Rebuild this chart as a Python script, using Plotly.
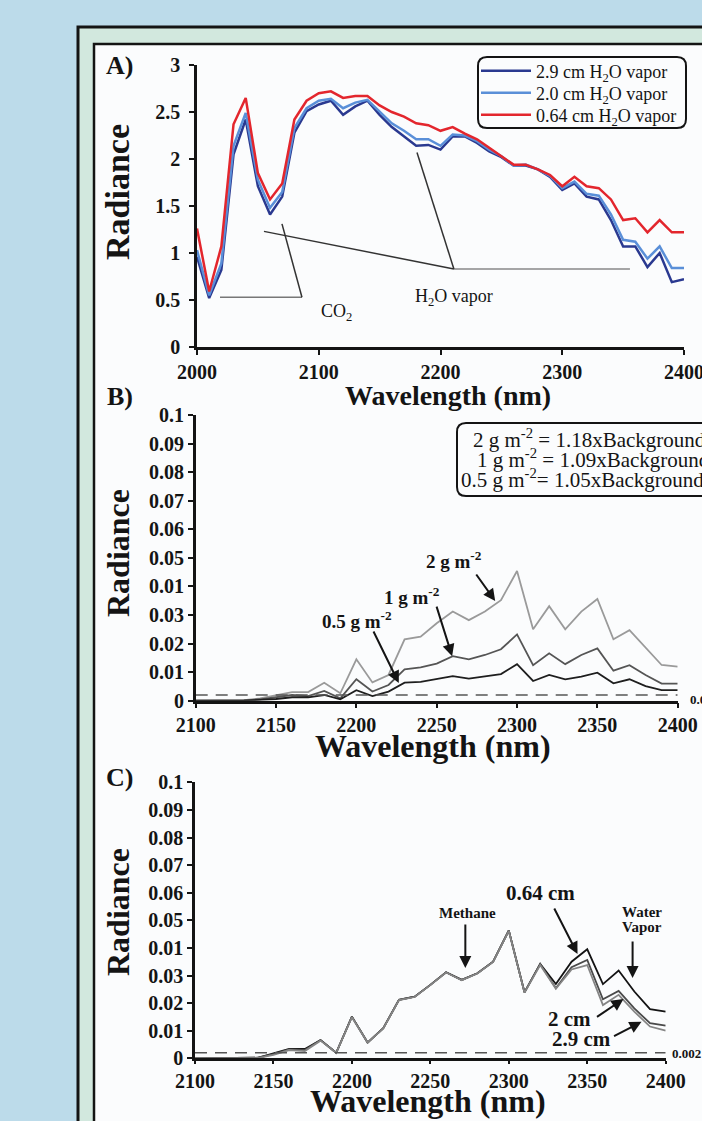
import plotly.graph_objects as go

# ---------------- data ----------------
wl_a = [2000, 2010, 2020, 2030, 2040, 2050, 2060, 2070, 2080, 2090,
        2100, 2110, 2120, 2130, 2140, 2150, 2160, 2170, 2180, 2190,
        2200, 2210, 2220, 2230, 2240, 2250, 2260, 2270, 2280, 2290,
        2300, 2310, 2320, 2330, 2340, 2350, 2360, 2370, 2380, 2390, 2400]
rad_29cm = [0.96, 0.52, 0.82, 2.05, 2.42, 1.71, 1.41, 1.60, 2.28, 2.51,
            2.58, 2.62, 2.47, 2.56, 2.62, 2.47, 2.34, 2.24, 2.14, 2.15,
            2.10, 2.24, 2.24, 2.17, 2.08, 2.02, 1.93, 1.93, 1.89, 1.81,
            1.67, 1.74, 1.60, 1.57, 1.35, 1.07, 1.07, 0.85, 1.00, 0.69, 0.72]
rad_20cm = [1.03, 0.55, 0.89, 2.14, 2.49, 1.78, 1.48, 1.65, 2.33, 2.54,
            2.62, 2.64, 2.54, 2.60, 2.63, 2.51, 2.38, 2.30, 2.21, 2.21,
            2.14, 2.26, 2.25, 2.19, 2.10, 2.03, 1.93, 1.94, 1.89, 1.82,
            1.69, 1.76, 1.63, 1.61, 1.41, 1.14, 1.12, 0.94, 1.07, 0.84, 0.84]
rad_064cm = [1.26, 0.59, 1.07, 2.37, 2.65, 1.85, 1.57, 1.74, 2.42, 2.62,
             2.70, 2.72, 2.65, 2.67, 2.67, 2.57, 2.50, 2.45, 2.38, 2.36,
             2.30, 2.34, 2.27, 2.21, 2.12, 2.03, 1.94, 1.94, 1.89, 1.83,
             1.71, 1.81, 1.71, 1.69, 1.57, 1.35, 1.37, 1.22, 1.35, 1.22, 1.22]
names_a = ["2.9 cm H<sub>2</sub>O vapor", "2.0 cm H<sub>2</sub>O vapor", "0.64 cm H<sub>2</sub>O vapor"]

wl_bc = [2100, 2110, 2120, 2130, 2140, 2150, 2160, 2170, 2180, 2190,
         2200, 2210, 2220, 2230, 2240, 2250, 2260, 2270, 2280, 2290,
         2300, 2310, 2320, 2330, 2340, 2350, 2360, 2370, 2380, 2390, 2400]
b_2g = [0, 0, 0, 0.0002, 0.0008, 0.002, 0.003, 0.003, 0.0063, 0.0026,
        0.0145, 0.0064, 0.009, 0.0215, 0.0224, 0.0271, 0.0312, 0.0282, 0.0312, 0.0352,
        0.0454, 0.025, 0.0331, 0.025, 0.0312, 0.0356, 0.0215, 0.0247, 0.0187, 0.0125, 0.0119]
b_1g = [0, 0, 0, 0.0001, 0.0005, 0.0012, 0.002, 0.0016, 0.0034, 0.0008,
        0.0075, 0.0032, 0.0055, 0.011, 0.0117, 0.013, 0.0156, 0.0145, 0.016, 0.018,
        0.0232, 0.0124, 0.0166, 0.0128, 0.016, 0.0183, 0.0105, 0.0124, 0.009, 0.006, 0.006]
b_05g = [0, 0, 0, 0, 0.0003, 0.0006, 0.0012, 0.0012, 0.002, 0.0005,
         0.0037, 0.0016, 0.0032, 0.0063, 0.0066, 0.0075, 0.0086, 0.0077, 0.0084, 0.0093,
         0.0128, 0.0069, 0.009, 0.0075, 0.0084, 0.0098, 0.0061, 0.0075, 0.0051, 0.0037, 0.0037]

c_064 = [0, 0, 0, 0, 0.0002, 0.0018, 0.0034, 0.0034, 0.0066, 0.002,
         0.0151, 0.0057, 0.0109, 0.0212, 0.0223, 0.0266, 0.0312, 0.0284, 0.0308, 0.035,
         0.0463, 0.0239, 0.0342, 0.0269, 0.035, 0.0395, 0.0269, 0.0318, 0.0242, 0.0178, 0.0169]
c_2 = [0, 0, 0, 0, 0.0002, 0.0015, 0.0032, 0.003, 0.0066, 0.002,
       0.0151, 0.0057, 0.0109, 0.0212, 0.0223, 0.0266, 0.0312, 0.0284, 0.0308, 0.035,
       0.0463, 0.0239, 0.0342, 0.0254, 0.033, 0.0356, 0.0214, 0.0244, 0.0181, 0.0127, 0.0118]
c_29 = [0, 0, 0, 0, 0.0001, 0.0012, 0.003, 0.0026, 0.0064, 0.002,
        0.0149, 0.0057, 0.0108, 0.0211, 0.0222, 0.0265, 0.0311, 0.0283, 0.0307, 0.0349,
        0.0462, 0.0238, 0.0338, 0.0252, 0.0322, 0.0338, 0.0193, 0.023, 0.0169, 0.0115, 0.010]

threshold = 0.002

a_yticks = [0, 0.5, 1, 1.5, 2, 2.5, 3]
a_yticklabels = ["0", "0.5", "1", "1.5", "2", "2.5", "3"]
a_xticks = [2000, 2100, 2200, 2300, 2400]
bc_yticks = [0, 0.01, 0.02, 0.03, 0.04, 0.05, 0.06, 0.07, 0.08, 0.09, 0.1]
bc_yticklabels = ["0", "0.01", "0.02", "0.03", "0.01", "0.05", "0.06", "0.07", "0.08", "0.09", "0.1"]
bc_xticks = [2100, 2150, 2200, 2250, 2300, 2350, 2400]

# ---------------- helpers ----------------
W, H = 702, 1121
def X(p): return p / W
def Y(p): return 1 - p / H

SERIF = "Liberation Serif"
INK = "#141414"

fig = go.Figure()

# Panel A (each series gets its own legend row)
for i, (name, vals, col) in enumerate(zip(names_a, [rad_29cm, rad_20cm, rad_064cm],
                                          ["#2a3990", "#5a8fd8", "#e3262d"])):
    fig.add_trace(go.Scatter(x=wl_a, y=vals, mode="lines", name=name,
                             legend="legend" if i == 0 else f"legend{i+1}",
                             line=dict(color=col, width=2.5), xaxis="x", yaxis="y"))

# Panel B
for vals, col in zip([b_2g, b_1g, b_05g], ["#9a9a9a", "#555555", "#1e1e1e"]):
    fig.add_trace(go.Scatter(x=wl_bc, y=vals, mode="lines", showlegend=False,
                             line=dict(color=col, width=1.8), xaxis="x2", yaxis="y2"))
fig.add_trace(go.Scatter(x=[wl_bc[0], wl_bc[-1]], y=[threshold, threshold], mode="lines",
                         showlegend=False, line=dict(color="#555555", width=1.6, dash="12px,8px"),
                         xaxis="x2", yaxis="y2"))

# Panel C
for vals, col in zip([c_064, c_2, c_29], ["#141414", "#4a4a4a", "#858585"]):
    fig.add_trace(go.Scatter(x=wl_bc, y=vals, mode="lines", showlegend=False,
                             line=dict(color=col, width=1.8), xaxis="x3", yaxis="y3"))
fig.add_trace(go.Scatter(x=[wl_bc[0], wl_bc[-1]], y=[threshold, threshold], mode="lines",
                         showlegend=False, line=dict(color="#555555", width=1.6, dash="12px,8px"),
                         xaxis="x3", yaxis="y3"))

axstyle = dict(showline=True, linecolor=INK, linewidth=2.5, ticks="outside", tickcolor=INK,
               tickwidth=1.5, ticklen=5, showgrid=False, zeroline=False, automargin=False,
               ticklabeloverflow="allow",
               tickfont=dict(family=SERIF, size=20, color=INK, weight="bold"))

fig.update_layout(
    xaxis=dict(axstyle, domain=[X(197), X(684)], range=[2000, 2400], tickvals=a_xticks,
               anchor="y"),
    yaxis=dict(axstyle, domain=[Y(347), Y(65)], range=[0, 3], tickvals=a_yticks,
               ticktext=a_yticklabels, anchor="x", ticklabelstandoff=5),
    xaxis2=dict(axstyle, domain=[X(195.7), X(677.7)], range=[2100, 2400], tickvals=bc_xticks,
                anchor="y2"),
    yaxis2=dict(axstyle, domain=[Y(700.7), Y(415)], range=[0, 0.1], tickvals=bc_yticks,
                ticktext=bc_yticklabels, anchor="x2"),
    xaxis3=dict(axstyle, domain=[X(195), X(665.7)], range=[2100, 2400], tickvals=bc_xticks,
                anchor="y3", ticklen=3),
    yaxis3=dict(axstyle, domain=[Y(1058.3), Y(782.3)], range=[0, 0.1], tickvals=bc_yticks,
                ticktext=bc_yticklabels, anchor="x3"),
)

# ---------------- frames & boxes ----------------
def rounded(x0, y0, x1, y1, r):
    rx, ry = r / W, r / H
    a0, a1 = X(x0), X(x1)
    b0, b1 = Y(y0), Y(y1)
    return (f"M {a0+rx},{b0} L {a1-rx},{b0} Q {a1},{b0} {a1},{b0-ry} "
            f"L {a1},{b1+ry} Q {a1},{b1} {a1-rx},{b1} L {a0+rx},{b1} "
            f"Q {a0},{b1} {a0},{b1+ry} L {a0},{b0-ry} Q {a0},{b0} {a0+rx},{b0} Z")

shapes = [
    dict(type="rect", xref="paper", yref="paper", x0=X(78), x1=X(760), y0=Y(27), y1=Y(1160),
         fillcolor="#d2e8de", line=dict(color=INK, width=3), layer="below"),
    dict(type="rect", xref="paper", yref="paper", x0=X(94), x1=X(760), y0=Y(44), y1=Y(1160),
         fillcolor="#fbfcfd", line=dict(color=INK, width=2.5), layer="below"),
    dict(type="path", xref="paper", yref="paper", path=rounded(478, 57, 686, 128, 9),
         line=dict(color=INK, width=2), layer="above"),
    dict(type="path", xref="paper", yref="paper", path=rounded(457, 423, 740, 496, 9),
         line=dict(color=INK, width=2), layer="above"),
    # Panel A pointer lines
    dict(type="line", xref="x", yref="y", x0=2018.9, y0=0.53, x1=2086.2, y1=0.53,
         line=dict(color="#777777", width=1.5)),
    dict(type="line", xref="x", yref="y", x0=2086.2, y0=0.53, x1=2069.8, y1=1.31,
         line=dict(color="#333333", width=1.5)),
    dict(type="line", xref="x", yref="y", x0=2055, y0=1.23, x1=2211, y1=0.83,
         line=dict(color="#333333", width=1.5)),
    dict(type="line", xref="x", yref="y", x0=2211, y0=0.83, x1=2355.6, y1=0.83,
         line=dict(color="#888888", width=1.5)),
    dict(type="line", xref="x", yref="y", x0=2211, y0=0.83, x1=2180.7, y1=2.07,
         line=dict(color="#333333", width=1.5)),
]

ann = []
def txt(text, x, y, size, bold=False, xanchor="center", angle=0):
    t = f"<b>{text}</b>" if bold else text
    ann.append(dict(text=t, x=X(x), y=Y(y), xref="paper", yref="paper", showarrow=False,
                    xanchor=xanchor, yanchor="middle", textangle=angle,
                    font=dict(family=SERIF, size=size, color=INK)))

def arrow(xr, yr, x, y, ax, ay):
    ann.append(dict(text="", x=x, y=y, xref=xr, yref=yr, ax=ax, ay=ay, showarrow=True,
                    arrowhead=2, arrowsize=1.2, arrowwidth=2, arrowcolor=INK))

# panel letters
txt("A)", 119, 66, 26, bold=True)
txt("B)", 120, 397, 26, bold=True)
txt("C)", 119, 777, 26, bold=True)
# axis titles
txt("Wavelength (nm)", 448, 396, 28, bold=True)
txt("Wavelength (nm)", 433, 746, 32, bold=True)
txt("Wavelength (nm)", 428, 1101, 32, bold=True)
txt("Radiance", 118, 192, 34, bold=True, angle=-90)
txt("Radiance", 118, 553, 32, bold=True, angle=-90)
txt("Radiance", 118, 912, 32, bold=True, angle=-90)

# Panel A labels
txt("CO<sub>2</sub>", 336, 313, 18)
txt("H<sub>2</sub>O vapor", 454, 297, 18)

# Panel B box text
txt("2 g m<sup>-2</sup> = 1.18xBackground", 471, 438, 21, xanchor="left")
txt("1 g m<sup>-2</sup> = 1.09xBackground", 475, 458, 21, xanchor="left")
txt("0.5 g m<sup>-2</sup>= 1.05xBackground", 459, 478, 21, xanchor="left")
# Panel B arrow labels
txt("2 g m<sup>-2</sup>", 454, 560, 19, bold=True)
txt("1 g m<sup>-2</sup>", 412, 596, 19, bold=True)
txt("0.5 g m<sup>-2</sup>", 357, 620, 19, bold=True)
arrow("x2", "y2", 2286.4, 0.0349, -20, -28)
arrow("x2", "y2", 2259.6, 0.0156, -16, -51)
arrow("x2", "y2", 2226.4, 0.0062, -26, -53)
txt("0.002", 688, 699, 13, bold=True, xanchor="left")

# Panel C labels
txt("0.64 cm", 540, 893, 21, bold=True)
txt("Methane", 467, 913, 15, bold=True)
txt("Water", 642, 912, 15, bold=True)
txt("Vapor", 642, 927, 15, bold=True)
txt("2 cm", 569, 1019, 21, bold=True)
txt("2.9 cm", 581, 1039, 21, bold=True)
arrow("x3", "y3", 2343.8, 0.0378, -24, -47)
arrow("x3", "y3", 2272.3, 0.0327, 0, -45)
arrow("x3", "y3", 2378.9, 0.0291, 0, -38)
arrow("x3", "y3", 2373.1, 0.0215, -28, 19)
arrow("x3", "y3", 2384.6, 0.0132, -29, 15)
txt("0.002", 670, 1053, 13, bold=True, xanchor="left")

leg = dict(xanchor="left", yanchor="middle", bgcolor="rgba(0,0,0,0)", borderwidth=0,
           itemwidth=50, font=dict(family=SERIF, size=18, color=INK))

fig.update_layout(
    width=W, height=H, margin=dict(l=0, r=0, t=0, b=0, autoexpand=False),
    paper_bgcolor="#bcdbea", plot_bgcolor="rgba(0,0,0,0)",
    shapes=shapes, annotations=ann,
    legend=dict(leg, x=X(476), y=Y(71)),
    legend2=dict(leg, x=X(476), y=Y(93)),
    legend3=dict(leg, x=X(476), y=Y(115)),
    font=dict(family=SERIF, color=INK),
)

fig.write_html("out.html")
